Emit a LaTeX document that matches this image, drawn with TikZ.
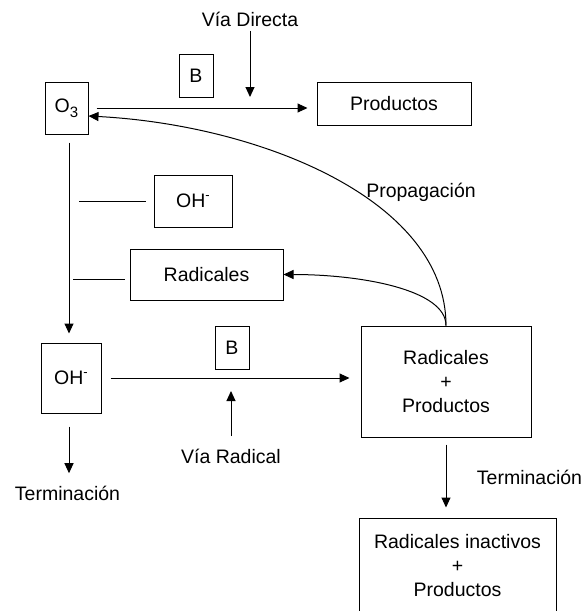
\documentclass[tikz,border=0pt]{standalone}
\usepackage{fontspec}
\setmainfont{Liberation Sans}
\usetikzlibrary{arrows.meta}

\newcommand{\subtxt}[1]{\raisebox{-5pt}{\fontsize{15}{15}\selectfont #1}}
\newcommand{\suptxt}[1]{\raisebox{8pt}{\fontsize{13}{13}\selectfont #1}}

\begin{document}
\begin{tikzpicture}[x=1pt,y=-1pt,line width=1pt,
	every node/.style={font=\fontsize{19.5}{24}\selectfont},
	box/.style={draw,inner sep=0pt,align=center},
	txt/.style={inner sep=0pt,align=center},
	arr/.style={-{Triangle[length=10pt,width=9pt]}}]
		\useasboundingbox (0,0) rectangle (587,611);

		\node[box,minimum width=43pt,minimum height=52pt]		(o3)		at (66.5,108)	{O\subtxt{3}};
		\node[box,minimum width=34pt,minimum height=43pt]		(bTop)		at (196,75.5)	{B};
		\node[box,minimum width=154pt,minimum height=43pt]		(productos)	at (394,103.5)	{Productos};
		\node[box,minimum width=78pt,minimum height=52pt]		(ohMid)		at (193,201)	{OH\suptxt{-}};
		\node[box,minimum width=153pt,minimum height=51pt]		(radicales)	at (206.5,274.5)	{Radicales};
		\node[box,minimum width=60pt,minimum height=70pt]		(ohLow)		at (71,378)		{OH\suptxt{-}};
		\node[box,minimum width=34pt,minimum height=43pt]		(bLow)		at (232,347.5)	{B};
		\node[box,minimum width=170pt,minimum height=111pt]		(radProd)	at (446,381.5)	{Radicales\\+\\Productos};
		\node[box,minimum width=197pt,minimum height=95pt]		(inactivos)	at (457.5,565.5)	{Radicales inactivos\\+\\Productos};

		\node[txt]	(viaDirecta)	at (250,19)		{Vía Directa};
		\node[txt]	(propagacion)	at (421,192)	{Propagación};
		\node[txt]	(viaRadical)	at (231,456)	{Vía Radical};
		\node[txt]	(termIzq)		at (67.5,493)	{Terminación};
		\node[txt]	(termDer)		at (529.5,477)	{Terminación};

		\coordinate	(vdEnd)	at (250,97);
		\coordinate	(vrEnd)	at (231,391);

		\draw[arr,shorten <=8pt,shorten >=9pt] (o3.east) -- (o3.east -| productos.west);
		\draw[arr,shorten <=4pt] (viaDirecta.south) -- (vdEnd);
		\draw[arr,shorten <=8pt,shorten >=9pt] ([xshift=2.5pt]o3.south) -- ([xshift=2.5pt]o3.south |- ohLow.north);
		\draw[shorten <=8pt,shorten >=12.5pt] (ohMid.west) -- (ohMid.west -| o3);
		\draw[shorten <=5pt,shorten >=6.5pt] ([yshift=-4.5pt]radicales.west) -- ([yshift=-4.5pt]radicales.west -| o3);
		\draw[arr,shorten <=9pt,shorten >=11pt] (ohLow.east) -- (ohLow.east -| radProd.west);
		\draw[arr,shorten <=12pt] (viaRadical.north) -- (vrEnd);
		\draw[arr,shorten <=13pt,shorten >=12pt] ([xshift=-2pt]ohLow.south) -- ([xshift=-2pt]ohLow.south |- termIzq.north);
		\draw[arr,shorten <=7pt,shorten >=10pt] (radProd.south) -- (radProd.south |- inactivos.north);
		\draw[arr] (radProd.north) .. controls +(0,-126) and +(171,9) .. ([yshift=-8pt]o3.east);
		\draw[arr] (radProd.north) .. controls +(0,-36) and +(77,0) .. (radicales.east);
	\end{tikzpicture}
\end{document}
